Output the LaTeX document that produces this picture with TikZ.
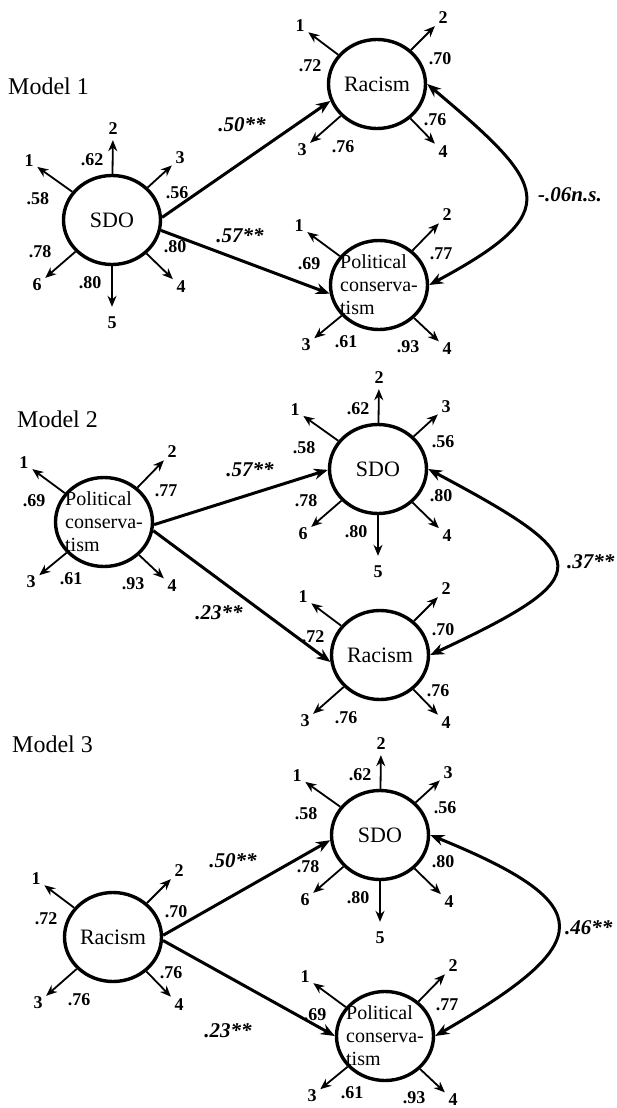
\documentclass[tikz,border=0pt]{standalone}
\usepackage{fontspec}
\setmainfont{Liberation Serif}
\usetikzlibrary{arrows.meta,shapes.geometric}

\tikzset{
  latent/.style={draw, ellipse, line width=3.4pt, minimum width=97pt, minimum height=89pt, inner sep=0pt, font=\fontsize{22}{26}\selectfont},
  poltext/.style={align=left, inner sep=0pt, font=\fontsize{20}{23}\selectfont},
  indnum/.style={inner sep=2pt, font=\bfseries\fontsize{18}{20}\selectfont},
  loadnum/.style={inner sep=0pt, font=\bfseries\fontsize{18}{20}\selectfont},
  coef/.style={inner sep=0pt, font=\bfseries\itshape\fontsize{21}{24}\selectfont},
  indarrow/.style={-{Stealth[length=11pt,width=9pt]}, line width=1.8pt},
  regpath/.style={-{Stealth[length=14pt,width=11pt]}, line width=3pt},
  covpath/.style={{Stealth[length=14pt,width=11pt]}-{Stealth[length=14pt,width=11pt]}, line width=3pt},
  modelname/.style={anchor=base west, inner sep=0pt, font=\fontsize{24}{28}\selectfont}
}

% #1 name, #2 x, #3 y
\newcommand{\sdoball}[3]{%
  \node[latent] (#1) at (#2,#3) {SDO};
  \foreach \i/\ix/\iy/\l/\lx/\ly/\s in {1/-83/-59/.58/-74/-21/2, 2/1/-91/.62/-20/-60/3,
      3/68/-62/.56/65/-27/2, 4/69/67/.80/63/27/2, 5/0/103/.80/-22/63/8, 6/-75/65/.78/-72/32/2} {
    \node[indnum] (#1-\i) at ({#2+(\ix)},{#3+(\iy)}) {\i};
    \node[loadnum] (#1-l\i) at ({#2+(\lx)},{#3+(\ly)}) {\l};
    \draw[indarrow, shorten >=\s pt] (#1) -- (#1-\i);
  }}
\newcommand{\racismball}[3]{%
  \node[latent] (#1) at (#2,#3) {Racism};
  \foreach \i/\ix/\iy/\l/\lx/\ly in {1/-77/-58/.72/-67/-18, 2/66/-66/.70/63/-25,
      3/-75/66/.76/-34/63, 4/66/68/.76/58/36} {
    \node[indnum] (#1-\i) at ({#2+(\ix)},{#3+(\iy)}) {\i};
    \node[loadnum] (#1-l\i) at ({#2+(\lx)},{#3+(\ly)}) {\l};
    \draw[indarrow, shorten >=2pt] (#1) -- (#1-\i);
  }}
\newcommand{\polball}[3]{%
  \node[latent] (#1) at (#2,#3) {};
  \node[poltext] (#1-txt) at (#2,#3) {Political\\conserva-\\tism};
  \foreach \i/\ix/\iy/\l/\lx/\ly in {1/-80/-59/.69/-70/-21, 2/68/-70/.77/62/-31,
      3/-73/60/.61/-33/57, 4/68/64/.93/29/62} {
    \node[indnum] (#1-\i) at ({#2+(\ix)},{#3+(\iy)}) {\i};
    \node[loadnum] (#1-l\i) at ({#2+(\lx)},{#3+(\ly)}) {\l};
    \draw[indarrow, shorten >=2pt] (#1) -- (#1-\i);
  }}

\begin{document}
\begin{tikzpicture}[x=1pt, y=-1pt]
\useasboundingbox (0,0) rectangle (616,1108);
% Model 1
\node[modelname] (m1) at (8,94) {Model 1};
\sdoball{sdoA}{112}{220}
\racismball{racA}{377}{84}
\polball{polA}{379}{285}
\draw[regpath] (sdoA.3) -- (racA.200);
\draw[regpath] (sdoA.-12) -- (polA.190);
\draw[covpath] (racA.east) .. controls +(120,101) and +(138,-74) .. (polA.east);
\node[coef] (cA1) at (242,125) {.50**};
\node[coef] (cA2) at (240,236) {.57**};
\node[coef, anchor=west] (cA3) at (538,195) {-.06n.s.};
% Model 2
\node[modelname] (m2) at (17,427) {Model 2};
\polball{polB}{104}{522}
\sdoball{sdoB}{378}{469}
\racismball{racB}{380}{655}
\draw[regpath] (polB.-3) -- (sdoB.181);
\draw[regpath] (polB.-10) -- (racB.188);
\draw[covpath] (sdoB.east) .. controls +(167,89) and +(171,-80) .. (racB.east);
\node[coef] (cB1) at (250,470) {.57**};
\node[coef] (cB2) at (219,613) {.23**};
\node[coef, anchor=west] (cB3) at (567,562) {.37**};
% Model 3
\node[modelname] (m3) at (12,752) {Model 3};
\racismball{racC}{113}{937}
\sdoball{sdoC}{380}{835}
\polball{polC}{385}{1036}
\draw[regpath] (racC.2) -- (sdoC.186);
\draw[regpath] (racC.-4) -- (polC.180);
\draw[covpath] (sdoC.east) .. controls +(172,70) and +(161,-93) .. (polC.east);
\node[coef] (cC1) at (233,861) {.50**};
\node[coef] (cC2) at (228,1031) {.23**};
\node[coef, anchor=west] (cC3) at (565,928) {.46**};
\end{tikzpicture}
\end{document}
